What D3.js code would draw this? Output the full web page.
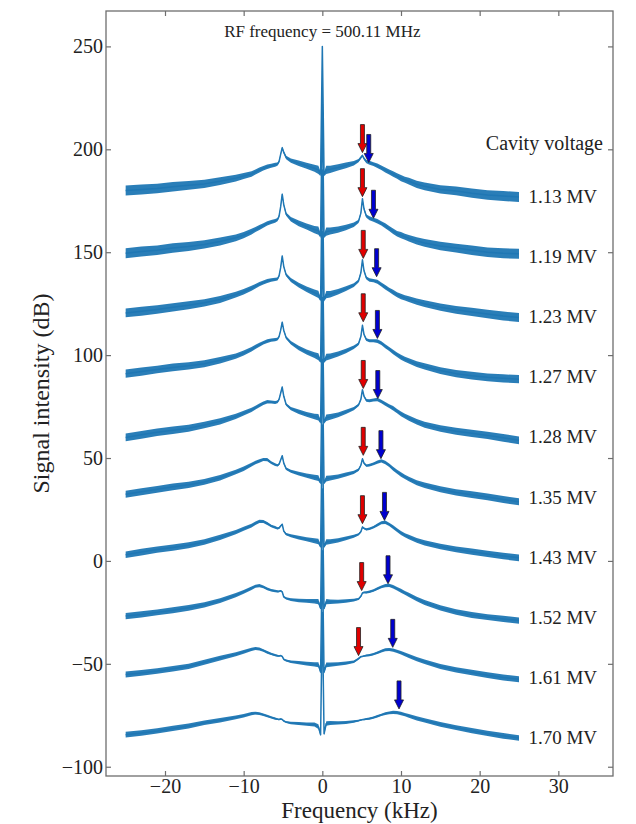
<!DOCTYPE html>
<html>
<head>
<meta charset="utf-8">
<script src="https://cdn.jsdelivr.net/npm/d3@7"></script>
<style>
  body { margin: 0; background: #fff; }
</style>
</head>
<body>
<div id="chart-area"></div>
<script>
// frequency grid shared by every spectrum (kHz)
const freqs = [-25, -23, -21, -19, -17, -15, -13, -11, -10, -9, -8.5, -8, -7.5, -7, -6.5, -6,
  -5.7, -5.5, -5.3, -5.1, -4.9, -4.6, -4, -3, -2, -1, -0.5, -0.22, 0, 0.22, 0.5,
  1, 2, 3, 4, 4.6, 4.9, 5.1, 5.3, 5.6, 6, 6.5, 7, 7.5, 8, 8.5, 9, 9.5, 10, 10.5, 11,
  12, 13, 15, 17, 19, 21, 23, 25];

// signal intensity (dB, offset per voltage)
const v113 = [180, 180.5, 181, 181.8, 182.5, 183.2, 184.5, 186, 187, 188, 189, 190, 190.8, 191.5, 192, 192.5,
  192.8, 194, 197.5, 200.8, 198.5, 196, 194.5, 193.2, 192, 190.8, 190, 188, 250, 188, 190,
  190.3, 191.2, 192.2, 193.2, 194.5, 196, 197, 195.5, 194, 193.5, 192.8, 192, 191, 190, 189, 188, 187, 186, 185.2, 184.5,
  183, 182, 180.5, 179.8, 178.7, 177.8, 177.3, 176.8];
const v119 = [149.5, 150.3, 151, 152, 152.8, 153.8, 155.2, 157, 158.3, 160, 161, 162, 163, 164, 164.7, 165.2,
  165.8, 167.5, 172, 178.2, 173, 168.5, 166, 164, 162.5, 161, 160.5, 158, 222, 158, 160,
  160.3, 161, 162, 163.3, 165, 169, 176, 171, 167.5, 166.5, 165.8, 165, 164, 162.8, 161.5, 160.2, 159, 158.3, 157.5, 156.8,
  155.5, 154.5, 153, 152, 151, 150, 149.5, 149.2];
const v123 = [120.5, 121.3, 122.2, 123.2, 124.2, 125.4, 127, 129.4, 130.8, 132.5, 133.5, 134.5, 135.3, 136, 136.5, 136.8,
  137, 138.5, 142.5, 148.2, 143, 139, 136.5, 134, 132, 130.3, 129.5, 127, 190, 127, 129.4,
  129.6, 130.8, 132.3, 134, 136, 140, 146.3, 141, 137.5, 136.5, 136.2, 135.6, 134.3, 133, 131.7, 130.5, 129.3, 128.5, 127.8, 127.2,
  126, 125, 123.3, 122, 121, 120, 119, 118.3];
const v127 = [91, 92, 93, 94, 94.8, 95.8, 97.5, 99.5, 101, 102.8, 104, 105, 106, 106.8, 107.3, 107.5,
  107.8, 109, 112, 116, 112, 108.5, 106, 103.5, 101.5, 100, 99.2, 97, 160, 97, 99,
  99.4, 100.5, 102, 103.8, 105.5, 109, 114.5, 110, 107.5, 107, 107, 106.8, 105.8, 104.3, 103, 101.5, 100.2, 99, 98, 97.2,
  95.6, 94.5, 92.5, 91, 90, 89.2, 88.7, 88.3];
const v128 = [60, 61.3, 62.5, 63.5, 64.5, 66, 67.8, 70.2, 71.8, 73.4, 74.5, 75.6, 76.6, 77.3, 77.2, 77,
  77.3, 78.5, 81.5, 84.5, 80, 76, 74, 72.5, 71.2, 70.2, 69.8, 67.5, 128, 67.5, 69.6,
  70, 71, 72.4, 74, 75.8, 78.5, 83.2, 80, 78, 77.8, 78.2, 78.4, 77.5, 76.3, 75.2, 74.2, 72.8, 71.5, 70.4, 69.4,
  67.6, 66.2, 64.3, 63, 62, 61, 59.8, 58.6];
const v135 = [32.4, 33.6, 34.8, 36, 37, 38.4, 40.4, 43.2, 44.8, 46.8, 47.8, 48.6, 49.3, 49.2, 47.8, 46.8,
  46.4, 47, 49, 51.1, 47.5, 44.8, 43.6, 42.4, 41.4, 40.6, 40.2, 38, 98, 38, 40,
  40.3, 41, 42, 43, 44.3, 46.5, 49.6, 47.5, 46.3, 46.5, 47.2, 48, 48.6, 47.8, 46.5, 44.8, 43.3, 42, 40.8, 39.8,
  38, 36.8, 34.8, 33.3, 32.2, 31.1, 29.8, 28.8];
const v143 = [3, 4.3, 5.5, 6.5, 7.6, 9.2, 11.4, 14, 15.6, 17.2, 18.3, 19.2, 19.2, 18.2, 17, 16.3,
  15.8, 16, 17, 17.8, 14.5, 13, 12.2, 11.3, 10.5, 9.8, 9.4, 7, 66, 7, 9.2,
  9.4, 10, 11, 12, 12.9, 14.2, 16.5, 15.8, 15.3, 15.6, 16.4, 17.5, 18.5, 18.8, 17.8, 16.4, 15, 13.6, 12.5, 11.6,
  10, 8.8, 7, 5.6, 4.5, 3.4, 2.4, 1.5];
const v152 = [-26.8, -26, -25, -24, -22.8, -21.3, -19.3, -16.6, -15, -13.3, -12.3, -12, -12.6, -13.6, -14.2, -14.6,
  -14.8, -14.8, -14.5, -15, -17.5, -18.2, -18.8, -19.2, -19.4, -19.6, -19.8, -23, 35, -23, -19.8,
  -19.8, -19.8, -19.5, -19, -18.5, -17.2, -15.6, -15.3, -15.3, -15, -14.4, -13.5, -12.6, -12, -11.9, -12.6, -13.5, -14.5, -15.5, -16.5,
  -18.5, -20.2, -22.8, -24.8, -26.3, -27.3, -28.2, -29];
const v161 = [-55.2, -54.4, -53.5, -52.4, -51.2, -49.2, -47.2, -45.3, -44.2, -43, -42.6, -42.8, -43.5, -44.4, -45.2, -45.8,
  -46.1, -46.2, -46, -46.4, -47.8, -48.4, -49, -49.4, -49.9, -50.3, -50.4, -54, 5, -54, -50.5,
  -50.4, -50.1, -49.7, -49, -47.5, -46.5, -46.4, -46.2, -46, -45.8, -45.3, -44.6, -43.8, -43.2, -43, -43.3, -43.9, -44.6, -45.4, -46.2,
  -47.7, -49, -51.3, -52.9, -54.2, -55.5, -56.6, -57.5];
const v170 = [-84.4, -83.6, -82.6, -81.4, -80.2, -78.6, -77.4, -76, -75.2, -74.2, -74, -74.2, -74.7, -75.4, -76, -76.6,
  -76.9, -77, -76.8, -77, -77.8, -78.3, -78.7, -79, -79.3, -79.5, -80.5, -84.5, -25, -84, -79,
  -78.8, -78.7, -78.5, -78, -77.6, -77.3, -77.1, -77, -76.8, -76.6, -76.1, -75.5, -74.8, -74.2, -73.8, -73.6, -73.7, -74.1, -74.7, -75.3,
  -76.5, -77.5, -79.4, -81, -82.5, -83.8, -85, -86];

const spectra = [v113, v119, v123, v127, v128, v135, v143, v152, v161, v170];
const voltages = ['1.13 MV', '1.19 MV', '1.23 MV', '1.27 MV', '1.28 MV', '1.35 MV', '1.43 MV', '1.52 MV', '1.61 MV', '1.70 MV'];

// half width of the noise band (dB) on the same grid, and how noisy each spectrum is
const noiseBand = [1.8, 1.8, 1.7, 1.7, 1.6, 1.5, 1.4, 1.2, 1.1, 1.0, 0.9, 0.9, 0.8, 0.8, 0.7, 0.7,
  0.6, 0.5, 0.4, 0.4, 0.5, 0.6, 0.8, 1.0, 1.1, 1.3, 1.5, 0.8, 0.3, 0.8, 1.5,
  1.3, 1.1, 1.0, 0.8, 0.6, 0.5, 0.4, 0.5, 0.6, 0.7, 0.7, 0.8, 0.8, 0.9, 0.9, 1.0, 1.0, 1.1, 1.1, 1.2,
  1.3, 1.4, 1.5, 1.6, 1.7, 1.7, 1.8, 1.8];
const noiseLevel = [1.35, 1.35, 1.2, 1.1, 1.05, 0.95, 0.9, 0.85, 0.8, 0.75];

// arrow tips (kHz, dB)
const redFreq = [5.1, 5.1, 5.2, 5.2, 5.2, 5.2, 5.1, 5.0, 4.6];
const redTip = [198.4, 177, 147, 116.2, 83.8, 51.3, 18.1, -14.4, -46];
const blueFreq = [5.9, 6.5, 6.9, 7.0, 7.05, 7.45, 7.9, 8.35, 8.95, 9.75];
const blueTip = [193.6, 166.5, 138.1, 108.1, 78.9, 49.7, 19.7, -11.1, -42, -71.9];

const xTicks = [-20, -10, 0, 10, 20, 30];
const yTicks = [-100, -50, 0, 50, 100, 150, 200, 250];

let width = 636;
let height = 824;
let lineColor = '#1f77b4';
let frameColor = '#6e6e6e';
let serif = '"Liberation Serif", "Times New Roman", Times, serif';

let x = d3.scaleLinear().domain([-27.5, 36.95]).range([106, 613]);
let y = d3.scaleLinear().domain([-104.5, 267.2]).range([776, 11]);

let chart = d3
  .select('#chart-area')
  .append('svg')
  .attr('id', 'chart')
  .attr('width', width)
  .attr('height', height);

chart
  .append('clipPath')
  .attr('id', 'plot-clip')
  .append('rect')
  .attr('x', x.range()[0])
  .attr('y', y.range()[1])
  .attr('width', x.range()[1] - x.range()[0])
  .attr('height', y.range()[0] - y.range()[1]);

let plot = chart.append('g').attr('clip-path', 'url(#plot-clip)');

//noise band around each spectrum, then the spectrum itself
spectra.forEach((values, k) => {
  let band = d3
    .area()
    .x((d, i) => x(freqs[i]))
    .y0((d, i) => y(d - noiseBand[i] * noiseLevel[k]))
    .y1((d, i) => y(d + noiseBand[i] * noiseLevel[k]));
  let line = d3
    .line()
    .x((d, i) => x(freqs[i]))
    .y((d) => y(d));

  plot.append('path').datum(values).attr('d', band).style('fill', lineColor).style('opacity', 0.95);
  plot
    .append('path')
    .datum(values)
    .attr('d', line)
    .style('fill', 'none')
    .style('stroke', lineColor)
    .style('stroke-width', 1.5)
    .style('stroke-linejoin', 'round');
});

//down arrows, drawn in pixels from their tip
function arrowPath() {
  let len = 28, headLen = 9, headHalf = 4.5, shaftHalf = 2;
  return `M0,0 L${-headHalf},${-headLen} L${-shaftHalf},${-headLen} L${-shaftHalf},${-len}
    L${shaftHalf},${-len} L${shaftHalf},${-headLen} L${headHalf},${-headLen} Z`;
}

function drawArrows(fr, tips, color) {
  chart
    .append('g')
    .selectAll('path')
    .data(fr)
    .enter()
    .append('path')
    .attr('transform', (d, i) => `translate(${x(d)}, ${y(tips[i])})`)
    .attr('d', arrowPath())
    .style('fill', color)
    .style('stroke', '#222')
    .style('stroke-width', 0.8);
}
drawArrows(redFreq, redTip, '#e00000');
drawArrows(blueFreq, blueTip, '#0000d0');

//axes: ticks pointing into the frame on all four sides
function styleAxis(g) {
  g.attr('font-family', null).attr('font-size', null);
  g.select('.domain').remove();
  g.selectAll('.tick line').style('stroke', frameColor).style('stroke-width', 1.2);
  g.selectAll('text').style('font-size', '20px').style('font-family', serif).style('fill', '#222');
}

chart
  .append('g')
  .attr('transform', `translate(0, ${y.range()[0]})`)
  .call(d3.axisBottom(x).tickValues(xTicks).tickSize(-5).tickPadding(3))
  .call(styleAxis);
chart
  .append('g')
  .attr('transform', `translate(0, ${y.range()[1]})`)
  .call(d3.axisTop(x).tickValues(xTicks).tickSize(-5).tickFormat(''))
  .call(styleAxis);
chart
  .append('g')
  .attr('transform', `translate(${x.range()[0]}, 0)`)
  .call(d3.axisLeft(y).tickValues(yTicks).tickSize(-5).tickPadding(3))
  .call(styleAxis);
chart
  .append('g')
  .attr('transform', `translate(${x.range()[1]}, 0)`)
  .call(d3.axisRight(y).tickValues(yTicks).tickSize(-5).tickFormat(''))
  .call(styleAxis);

//frame
chart
  .append('rect')
  .attr('x', x.range()[0])
  .attr('y', y.range()[1])
  .attr('width', x.range()[1] - x.range()[0])
  .attr('height', y.range()[0] - y.range()[1])
  .style('fill', 'none')
  .style('stroke', frameColor)
  .style('stroke-width', 1.3);

function label(sel, size) {
  return sel.style('font-family', serif).style('font-size', size + 'px').style('fill', '#222');
}

//axis titles
chart
  .append('text')
  .attr('x', (x.range()[0] + x.range()[1]) / 2)
  .attr('y', 818)
  .attr('text-anchor', 'middle')
  .call(label, 23)
  .text('Frequency (kHz)');
chart
  .append('text')
  .attr('transform', `translate(49, ${(y.range()[0] + y.range()[1]) / 2}) rotate(-90)`)
  .attr('text-anchor', 'middle')
  .call(label, 24)
  .text('Signal intensity (dB)');

chart
  .append('text')
  .attr('x', x(0))
  .attr('y', 37)
  .attr('text-anchor', 'middle')
  .call(label, 17)
  .text('RF frequency = 500.11 MHz');

//voltage labels, evenly spaced down the right side
chart
  .append('text')
  .attr('x', 603)
  .attr('y', 150)
  .attr('text-anchor', 'end')
  .call(label, 20)
  .text('Cavity voltage');

let labelStep = 60.1;
chart
  .append('g')
  .selectAll('text')
  .data(voltages)
  .enter()
  .append('text')
  .attr('x', x(26.2))
  .attr('y', (d, i) => 203 + i * labelStep)
  .call(label, 19)
  .text((d) => d);
</script>
</body>
</html>
